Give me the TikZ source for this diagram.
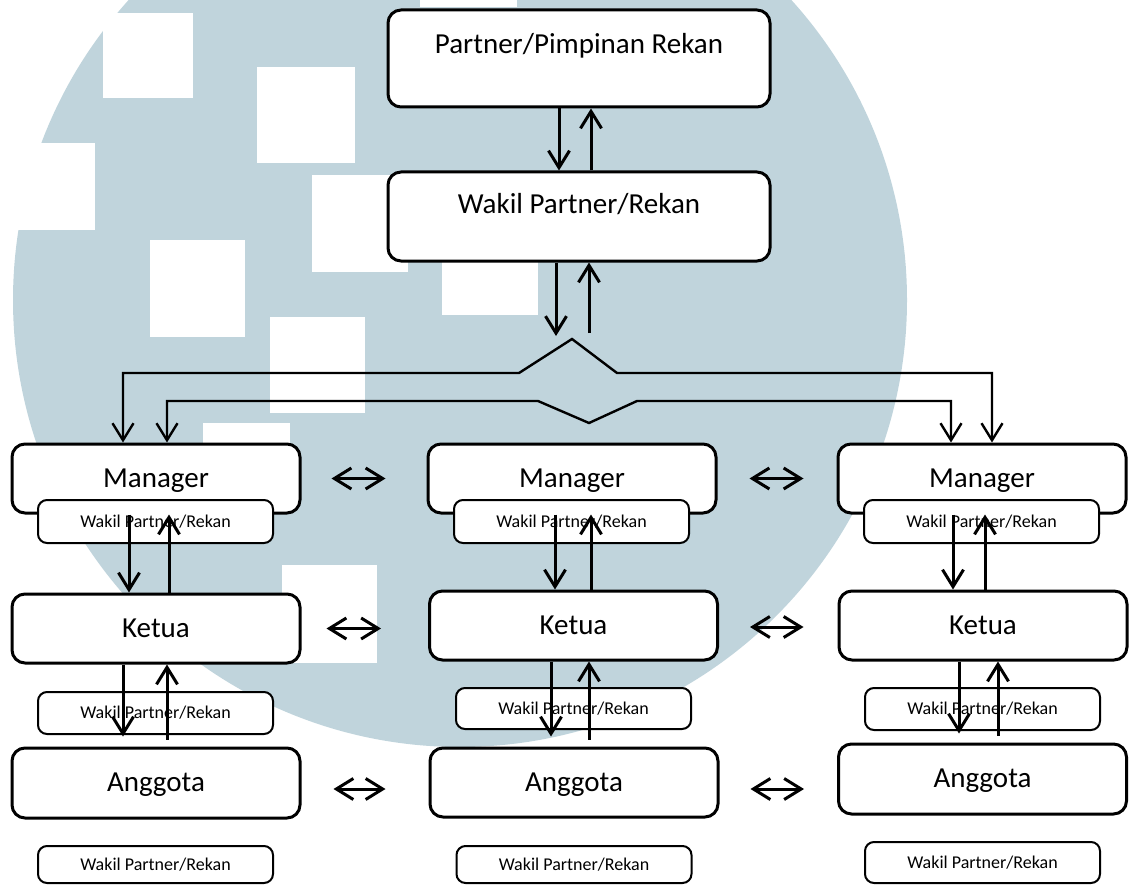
\documentclass[tikz,border=0pt]{standalone}
\usepackage{fontspec}
\setmainfont{Carlito}
\usetikzlibrary{arrows.meta}
\definecolor{logoblue}{RGB}{192,212,220}

\begin{document}
\begin{tikzpicture}[x=1pt,y=-1pt,
    >={Straight Barb[length=17pt,width=21pt]},
    box/.style={draw, line width=3pt, rounded corners=13pt, fill=white, inner sep=0pt,
      minimum width=288pt, minimum height=69pt,
      font=\fontsize{29}{35}\selectfont, text height=19pt, text depth=1.4pt},
    minibox/.style={draw, line width=2pt, rounded corners=9pt, fill=white, inner sep=0pt,
      minimum width=235pt, minimum height=43pt,
      font=\fontsize{18}{22}\selectfont, text height=11.6pt, text depth=0pt}]
  \useasboundingbox (0,0) rectangle (1131,885);
  \clip (0,0) rectangle (1131,885);
  % watermark
  \fill[logoblue] (460,300) circle[radius=447];
  \foreach \a/\b/\c/\d in {103/13/193/98, 257/67/355/163, 312/175/408/272,
      150/240/245/337, 270/317/365/413, 203/423/290/513, 442/220/538/315,
      282/565/377/663, 0/143/95/230, 420/-90/517/7}
    \fill[white] (\a,\b) rectangle (\c,\d);
  % boxes
  \draw
    (579,58.5) node[box, minimum width=382pt, minimum height=97pt, text depth=28pt] (partner) {Partner/Pimpinan Rekan}
    (579,216.5) node[box, minimum width=382pt, minimum height=89pt, text depth=25.4pt] (wakil) {Wakil Partner/Rekan}
    (156,478.5) node[box] (mgr1) {Manager}
    (572,478.5) node[box] (mgr2) {Manager}
    (982,478.5) node[box] (mgr3) {Manager}
    (156,628.5) node[box] (ket1) {Ketua}
    (573.5,625.5) node[box] (ket2) {Ketua}
    (983,625.5) node[box] (ket3) {Ketua}
    (156,783) node[box, minimum height=70pt] (ang1) {Anggota}
    (574,782.5) node[box] (ang2) {Anggota}
    (982.5,779) node[box, minimum height=70pt] (ang3) {Anggota};
  \draw
    (155.5,521.5) node[minibox] (wm1) {Wakil Partner/Rekan}
    (571.5,521.5) node[minibox] (wm2) {Wakil Partner/Rekan}
    (981.5,521.5) node[minibox] (wm3) {Wakil Partner/Rekan}
    (155.5,713) node[minibox, minimum height=42pt] (wk1) {Wakil Partner/Rekan}
    (573.5,708.5) node[minibox, minimum height=41pt] (wk2) {Wakil Partner/Rekan}
    (982.5,709) node[minibox, minimum height=42pt] (wk3) {Wakil Partner/Rekan}
    (155.5,864.5) node[minibox, minimum height=37pt] (wa1) {Wakil Partner/Rekan}
    (574,864.5) node[minibox, minimum height=37pt] (wa2) {Wakil Partner/Rekan}
    (982.5,862.5) node[minibox, minimum height=41pt] (wa3) {Wakil Partner/Rekan};
  \coordinate (hubin) at (556,336);
  \coordinate (hubout) at (589,333);
  \coordinate (hump1) at (519,373);
  \coordinate (hump2) at (572,339);
  \coordinate (hump3) at (617,373);
  \coordinate (dip1) at (538,401);
  \coordinate (dip2) at (589,423);
  \coordinate (dip3) at (637,401);
  \begin{scope}[->, line width=3pt]
    \draw ([xshift=-20pt]partner.south) -- ([xshift=-20pt]partner.south |- wakil.north);
    \draw ([xshift=12pt]partner.south |- wakil.north) -- ([xshift=12pt]partner.south);
    \draw ([xshift=-23pt]wakil.south) -- (hubin);
    \draw (hubout) -- (hubout |- wakil.south);
    % manager - ketua
    \draw ([xshift=-27pt]mgr1.south) -- ([xshift=-27pt]mgr1.south |- ket1.north);
    \draw ([xshift=13pt]mgr1.south |- ket1.north) -- ([xshift=13pt]mgr1.south);
    \draw ([xshift=-17pt]mgr2.south) -- ([xshift=-17pt]mgr2.south |- ket2.north);
    \draw ([xshift=19pt]mgr2.south |- ket2.north) -- ([xshift=19pt]mgr2.south);
    \draw ([xshift=-29pt]mgr3.south) -- ([xshift=-29pt]mgr3.south |- ket3.north);
    \draw ([xshift=3pt]mgr3.south |- ket3.north) -- ([xshift=3pt]mgr3.south);
    % ketua - anggota
    \draw[shorten >=10pt] ([xshift=-33pt]ket1.south) -- ([xshift=-33pt]ket1.south |- ang1.north);
    \draw[shorten <=7pt] ([xshift=11pt]ket1.south |- ang1.north) -- ([xshift=11pt]ket1.south);
    \draw[shorten >=10pt] ([xshift=-22.5pt]ket2.south) -- ([xshift=-22.5pt]ket2.south |- ang2.north);
    \draw[shorten <=7pt] ([xshift=15.5pt]ket2.south |- ang2.north) -- ([xshift=15.5pt]ket2.south);
    \draw[shorten >=9pt] ([xshift=-24pt]ket3.south) -- ([xshift=-24pt]ket3.south |- ang3.north);
    \draw[shorten <=7pt] ([xshift=15pt]ket3.south |- ang3.north) -- ([xshift=15pt]ket3.south);
  \end{scope}
  \begin{scope}[<->, line width=2.4pt]
    \draw ([xshift=-33pt]mgr1.north) |- (hump1) -- (hump2) -- (hump3) -| ([xshift=10pt]mgr3.north);
    \draw ([xshift=11pt]mgr1.north) |- (dip1) -- (dip2) -- (dip3) -| ([xshift=-31pt]mgr3.north);
  \end{scope}
  \begin{scope}[<->, line width=3pt]
    \draw[shorten <=30pt, shorten >=41pt] (mgr1.east) -- (mgr1.east -| mgr2.west);
    \draw[shorten <=32pt, shorten >=33pt] (mgr2.east) -- (mgr2.east -| mgr3.west);
    \draw[shorten <=25pt, shorten >=47pt] (ket1.east) -- (ket1.east -| ket2.west);
    \draw[shorten <=31pt, shorten >=34pt] ([yshift=-1.5pt]ket2.east) -- ([yshift=-1.5pt]ket2.east -| ket3.west);
    \draw[shorten <=32pt, shorten >=43pt] ([yshift=-6pt]ang1.east) -- ([yshift=-6pt]ang1.east -| ang2.west);
    \draw[shorten <=31pt, shorten >=33pt] ([yshift=-6.5pt]ang2.east) -- ([yshift=-6.5pt]ang2.east -| ang3.west);
  \end{scope}
\end{tikzpicture}
\end{document}
